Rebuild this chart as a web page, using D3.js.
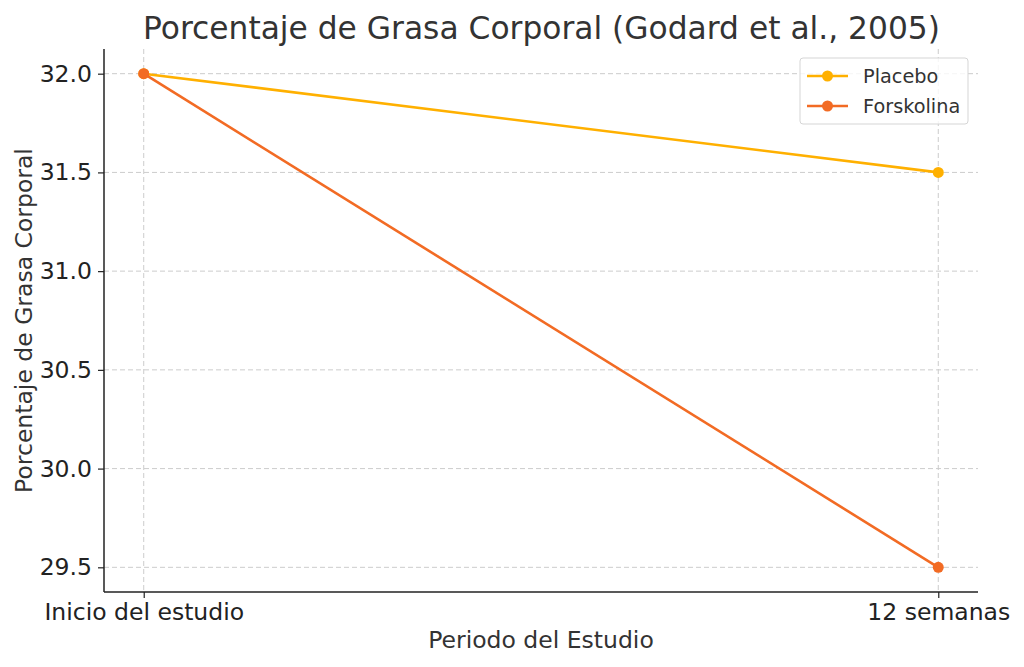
<!DOCTYPE html>
<html>
<head>
<meta charset="utf-8">
<script src="https://cdn.jsdelivr.net/npm/d3@7"></script>
<style>
  html, body { margin: 0; padding: 0; background: #fff; }
  svg { display: block; font-family: "DejaVu Sans", sans-serif; }
</style>
</head>
<body>
<svg id="chart" width="1024" height="667"></svg>
<script>
const categories = ["Inicio del estudio", "12 semanas"];
const placebo = [32.0, 31.5];
const forskolina = [32.0, 29.5];
const yTicks = [29.5, 30.0, 30.5, 31.0, 31.5, 32.0];
const seriesNames = ["Placebo", "Forskolina"];
const seriesColors = ["#FFB000", "#F26B24"];
const titleText = "Porcentaje de Grasa Corporal (Godard et al., 2005)";
const xLabel = "Periodo del Estudio";
const yLabel = "Porcentaje de Grasa Corporal";

(function () {
const series = [placebo, forskolina].map((vals, i) => ({
  name: seriesNames[i], color: seriesColors[i],
  points: vals.map((v, j) => ({ x: j, y: v }))
}));

const svg = d3.select("#chart");
const mLeft = 104, mRight = 978, mTop = 49, mBottom = 592;
const textColor = "#333333";

const x = d3.scaleLinear().domain([-0.05, 1.05]).range([mLeft, mRight]);
const y = d3.scaleLinear().domain([29.375, 32.125]).range([mBottom, mTop]);

// grid
const grid = svg.append("g");
grid.selectAll("line.gy").data(yTicks).enter().append("line")
  .attr("x1", mLeft).attr("x2", mRight)
  .attr("y1", d => y(d)).attr("y2", d => y(d))
  .attr("stroke", "#cccccc").attr("stroke-width", 1).attr("stroke-dasharray", "5,3");
grid.selectAll("line.gx").data(categories).enter().append("line")
  .attr("x1", (d, i) => x(i)).attr("x2", (d, i) => x(i))
  .attr("y1", mTop).attr("y2", mBottom)
  .attr("stroke", "#cccccc").attr("stroke-width", 1).attr("stroke-dasharray", "5,3");

// axes
const yAxis = d3.axisLeft(y).tickValues(yTicks).tickFormat(d3.format(".1f")).tickSizeOuter(0).tickSize(6).tickPadding(6);
const gy = svg.append("g").attr("transform", `translate(${mLeft},0)`).call(yAxis);
const xAxis = d3.axisBottom(x).tickValues([0, 1]).tickFormat(i => categories[i]).tickSizeOuter(0).tickSize(6).tickPadding(5);
const gx = svg.append("g").attr("transform", `translate(0,${mBottom})`).call(xAxis);
[gx, gy].forEach(g => {
  g.select(".domain").attr("stroke", "#222").attr("stroke-width", 1.5);
  g.selectAll(".tick line").attr("stroke", "#222").attr("stroke-width", 1.2);
  g.selectAll(".tick text").attr("fill", "#222").style("font-size", "23.5px").style("font-family", "DejaVu Sans");
});
gy.select(".domain").attr("d", `M0,${mTop}V${mBottom}`);
gx.select(".domain").attr("d", `M${mLeft},0H${mRight}`);

// lines
const line = d3.line().x(d => x(d.x)).y(d => y(d.y));
series.forEach(s => {
  svg.append("path").datum(s.points).attr("d", line)
    .attr("fill", "none").attr("stroke", s.color).attr("stroke-width", 2.6);
  svg.selectAll(null).data(s.points).enter().append("circle")
    .attr("cx", d => x(d.x)).attr("cy", d => y(d.y)).attr("r", 5.5)
    .attr("fill", s.color);
});

// title & labels
svg.append("text").attr("x", (mLeft + mRight) / 2 + 0.5).attr("y", 39)
  .attr("text-anchor", "middle").attr("fill", textColor)
  .style("font-size", "31.3px").text(titleText);
svg.append("text").attr("x", (mLeft + mRight) / 2).attr("y", 648)
  .attr("text-anchor", "middle").attr("fill", textColor)
  .style("font-size", "23.5px").text(xLabel);
svg.append("text").attr("transform", `translate(32,${(mTop + mBottom) / 2}) rotate(-90)`)
  .attr("text-anchor", "middle").attr("fill", textColor)
  .style("font-size", "23.5px").text(yLabel);

// legend
const lg = svg.append("g").attr("transform", "translate(800,58)");
lg.append("rect").attr("width", 168).attr("height", 66).attr("rx", 3)
  .attr("fill", "#fff").attr("fill-opacity", 0.8).attr("stroke", "#d5d5d5").attr("stroke-width", 1);
series.forEach((s, i) => {
  const yy = 18 + i * 30;
  lg.append("line").attr("x1", 7).attr("x2", 48).attr("y1", yy).attr("y2", yy)
    .attr("stroke", s.color).attr("stroke-width", 2.6);
  lg.append("circle").attr("cx", 27.5).attr("cy", yy).attr("r", 5.5).attr("fill", s.color);
  lg.append("text").attr("x", 63).attr("y", yy).attr("dy", "0.35em")
    .attr("fill", textColor).style("font-size", "19.3px").text(s.name);
});
})();
</script>
</body>
</html>
